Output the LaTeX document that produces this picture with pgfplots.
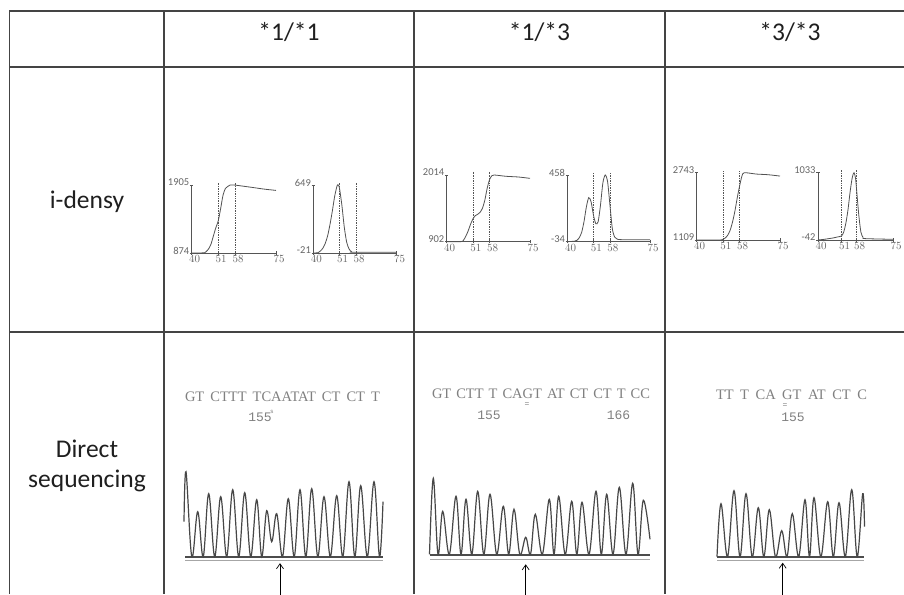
\documentclass[border=0pt]{standalone}
\usepackage{fontspec}
\setmainfont{Carlito}
\newfontfamily\seqfont{Liberation Serif}
\newfontfamily\numfont{Liberation Mono}
\usepackage{pgfplots}
\pgfplotsset{compat=1.18}
\usetikzlibrary{arrows.meta}
\definecolor{tline}{HTML}{444444}
\definecolor{cline}{HTML}{555555}
\definecolor{seqgray}{HTML}{808080}
\pgfplotsset{
 melt/.style={scale only axis, anchor=south west, axis lines*=left,
   xmin=40, xmax=75, xtick={40,51,58,75}, tick align=center, major tick length=3.5pt,
   axis line style={cline, line width=0.7pt},
   every tick/.style={cline, line width=0.6pt},
   tick label style={font=\fontsize{10.5}{10.5}\selectfont, text=black!60, inner sep=0.5pt},
   xticklabel style={xshift=3pt},
   yticklabel style={yshift=2.5pt},
   clip=false},
 curve/.style={black!68, line width=0.8pt, smooth, tension=0.45, mark=none},
 dline/.style={cline, densely dotted, line width=0.7pt, mark=none},
 chrom/.style={scale only axis, anchor=south west, hide axis, ymin=-40, ymax=90, height=130pt, clip=false},
 trace/.style={black!72, line width=1.2pt, smooth, tension=0.6, mark=none},
 base/.style={black!70, line width=1.5pt, mark=none},
 base2/.style={black!35, line width=0.8pt, mark=none},
 arr/.style={black, line width=0.7pt, mark=none, -{Straight Barb[length=5pt,width=7pt]}},
}
\begin{document}
\begin{tikzpicture}
\useasboundingbox (0,0) rectangle (904pt,594pt);
\clip (0,0) rectangle (904pt,594pt);
\fill[white] (0,0) rectangle (904pt,594pt);
% table grid
\draw[tline, line width=1.6pt] (9.5pt,583pt) -- (904pt,583pt);
\draw[tline, line width=1.6pt] (9.5pt,527pt) -- (904pt,527pt);
\draw[tline, line width=1.6pt] (9.5pt,262pt) -- (904pt,262pt);
\foreach \xx in {9.5,164,414,665} {\draw[tline, line width=1.6pt] (\xx pt,583.8pt) -- (\xx pt,0pt);}
% headers
\begin{scope}[every node/.style={text=black!88, font=\fontsize{25.5}{30}\selectfont, anchor=base, inner sep=0pt}]
\node at (289pt,553pt) {*1/*1};
\node at (539.5pt,553pt) {*1/*3};
\node at (790pt,553pt) {*3/*3};
\node at (87pt,385pt) {i-densy};
\node at (87pt,136pt) {Direct};
\node at (87pt,106pt) {sequencing};
\end{scope}
% i-densy curves
\begin{axis}[melt, at={(191.7pt,341pt)}, width=84.3pt, height=68pt, ymin=874, ymax=1905, ytick={874,1905}, yticklabels={874,1905}]
\addplot[curve] coordinates {(40,874) (44,875) (45.5,880) (46,895) (47,936) (48,1008) (49,1132) (50,1255) (51,1359) (52,1544) (53,1750) (54,1853) (55,1884) (56,1905) (58,1903) (62,1884) (66,1864) (70,1843) (75,1823)};
\addplot[dline] coordinates {(51,874) (51,1950)};
\addplot[dline] coordinates {(58,874) (58,1950)};
\end{axis}
\begin{axis}[melt, at={(313.3pt,341pt)}, width=83.4pt, height=68pt, ymin=-21, ymax=649, ytick={-21,649}, yticklabels={-21,649}]
\addplot[curve] coordinates {(40,-21) (42,-18) (43,-1) (44,26) (45,73) (46,147) (47,260) (48,394) (49,542) (50,642) (50.5,649) (51,616) (52,448) (53,234) (54,86) (55,19) (56,-8) (57,-14) (75,-14)};
\addplot[dline] coordinates {(51,-21) (51,680)};
\addplot[dline] coordinates {(58,-21) (58,680)};
\end{axis}
\begin{axis}[melt, at={(446.7pt,352.3pt)}, width=83.3pt, height=66.7pt, ymin=902, ymax=2014, ytick={902,2014}, yticklabels={902,2014}]
\addplot[curve] coordinates {(40,902) (46,903) (47,924) (48,991) (49,1080) (50,1191) (51,1280) (52,1336) (53,1358) (54,1391) (55,1458) (56,1591) (57,1792) (58,1936) (59,2003) (60,2014) (65,1992) (70,1981) (75,1958)};
\addplot[dline] coordinates {(51,902) (51,2065)};
\addplot[dline] coordinates {(58,902) (58,2065)};
\end{axis}
\begin{axis}[melt, at={(567.5pt,352.3pt)}, width=82.5pt, height=66.7pt, ymin=-34, ymax=458, ytick={-34,458}, yticklabels={-34,458}]
\addplot[curve] coordinates {(40,-34) (43,-30) (44,-24) (45,-4) (46,35) (47,114) (48,222) (49,291) (50,261) (51,163) (52,99) (53,114) (54,237) (55,399) (56,458) (57,409) (58,237) (59,64) (60,0) (61,-14) (63,-19) (75,-19)};
\addplot[dline] coordinates {(51,-34) (51,480)};
\addplot[dline] coordinates {(58,-34) (58,480)};
\end{axis}
\begin{axis}[melt, at={(696.7pt,354pt)}, width=83.3pt, height=67.3pt, ymin=1109, ymax=2743, ytick={1109,2743}, yticklabels={1109,2743}]
\addplot[curve] coordinates {(40,1109) (50,1110) (51,1125) (52,1158) (53,1223) (54,1338) (55,1534) (56,1795) (57,2122) (58,2416) (59,2661) (60,2743) (65,2710) (70,2694) (75,2661)};
\addplot[dline] coordinates {(51,1109) (51,2800)};
\addplot[dline] coordinates {(58,1109) (58,2800)};
\end{axis}
\begin{axis}[melt, at={(818pt,354pt)}, width=75pt, height=67.3pt, ymin=-42, ymax=1033, ytick={-42,1033}, yticklabels={-42,1033}]
\addplot[curve] coordinates {(40,-42) (43,-31) (45,-20) (47,-10) (49,6) (51,23) (52,87) (53,227) (54,442) (55,732) (56,958) (56.8,1033) (57.5,947) (58,764) (59,367) (60,87) (61,1) (62,-20) (75,-31)};
\addplot[dline] coordinates {(51,-42) (51,1080)};
\addplot[dline] coordinates {(58,-42) (58,1080)};
\end{axis}
% sequence texts
\begin{scope}[every node/.style={text=seqgray, inner sep=0pt, anchor=base}]
\node[font=\seqfont\fontsize{14.5}{14.5}\selectfont] at (282.5pt,192pt) {\makebox[195pt][s]{GT\hfill CTTT\hfill TCAATAT\hfill CT\hfill CT\hfill T}};
\node[font=\numfont\fontsize{13}{13}\selectfont] at (260pt,172pt) {155};
\node[font=\numfont\fontsize{6}{6}\selectfont] at (272pt,180pt) {s};
\node[font=\seqfont\fontsize{14.5}{14.5}\selectfont] at (541pt,195pt) {\makebox[218pt][s]{GT\hfill CTT\hfill T\hfill CAGT\hfill AT\hfill CT\hfill CT\hfill T\hfill CC}};
\node[font=\numfont\fontsize{13}{13}\selectfont] at (489pt,174pt) {155};
\node[font=\numfont\fontsize{13}{13}\selectfont] at (618.5pt,174pt) {166};
\node[font=\numfont\fontsize{8}{8}\selectfont] at (527pt,187pt) {=};
\node[font=\seqfont\fontsize{14.5}{14.5}\selectfont] at (791.5pt,194pt) {\makebox[151pt][s]{TT\hfill T\hfill CA\hfill GT\hfill AT\hfill CT\hfill C}};
\node[font=\numfont\fontsize{13}{13}\selectfont] at (793pt,172.3pt) {155};
\node[font=\numfont\fontsize{8}{8}\selectfont] at (785pt,186pt) {=};
\end{scope}
% chromatograms
\begin{axis}[chrom, at={(184pt,-2.7pt)}, width=200pt, xmin=184, xmax=384]
\addplot[base2] coordinates {(185,-4) (383,-4)};
\addplot[base] coordinates {(185,-0.5) (383,-0.5)};
\addplot[trace] coordinates {(184,35) (186,85) (191.8,0) (197.7,45) (203.2,0) (208.7,63) (214.7,0) (220.7,60) (226.7,0) (232.7,67) (238.7,0) (244.7,64) (250.7,0) (256.7,57) (261.7,0) (266.7,46) (271.7,15) (276.7,43) (282.5,0) (288.3,58) (294.2,0) (300,67) (305.8,0) (311.7,68) (317.8,0) (324,60) (330.3,0) (336.7,61) (342.8,0) (349,75) (354.8,0) (360.7,71) (367.3,0) (374,75) (379.5,0) (383,55)};
\addplot[arr] coordinates {(280,-45) (280,-6.5)};
\end{axis}
\begin{axis}[chrom, at={(429pt,-0.3pt)}, width=222pt, xmin=429, xmax=651]
\addplot[base2] coordinates {(430,-5.5) (650,-5.5)};
\addplot[base] coordinates {(430,-0.5) (650,-0.5)};
\addplot[trace] coordinates {(429.5,0) (433.3,76) (438,0) (442.7,43) (449.3,0) (456,58) (461,0) (466,55) (471.8,0) (477.7,63) (483.8,0) (490,60) (496.7,0) (503.3,48) (508.7,0) (514,45) (519.8,0) (525.7,17) (530.5,0) (535.3,40) (542.3,0) (549.3,55) (554,0) (558.7,58) (565.2,0) (571.7,53) (576.8,0) (582,52) (589,0) (596,63) (601.3,0) (606.7,60) (613,0) (619.3,67) (626,0) (632.7,71) (638,0) (643.3,54) (650,15)};
\addplot[arr] coordinates {(525.7,-45) (525.7,-10)};
\end{axis}
\begin{axis}[chrom, at={(716pt,-2.7pt)}, width=149pt, xmin=716, xmax=865]
\addplot[base2] coordinates {(717,-4) (864,-4)};
\addplot[base] coordinates {(717,-0.5) (864,-0.5)};
\addplot[trace] coordinates {(717,0) (721,53) (727.5,0) (734,66) (740,0) (746,63) (752.2,0) (758.3,49) (763.8,0) (769.3,47) (775.5,0) (781.7,26) (787,0) (792.3,43) (798.7,0) (805,57) (809.5,0) (814,59) (820.8,0) (827.7,55) (833.3,0) (839,54) (845.3,0) (851.7,67) (857.2,0) (862.7,63) (864.5,30)};
\addplot[arr] coordinates {(782.7,-45) (782.7,-6)};
\end{axis}
\end{tikzpicture}
\end{document}
